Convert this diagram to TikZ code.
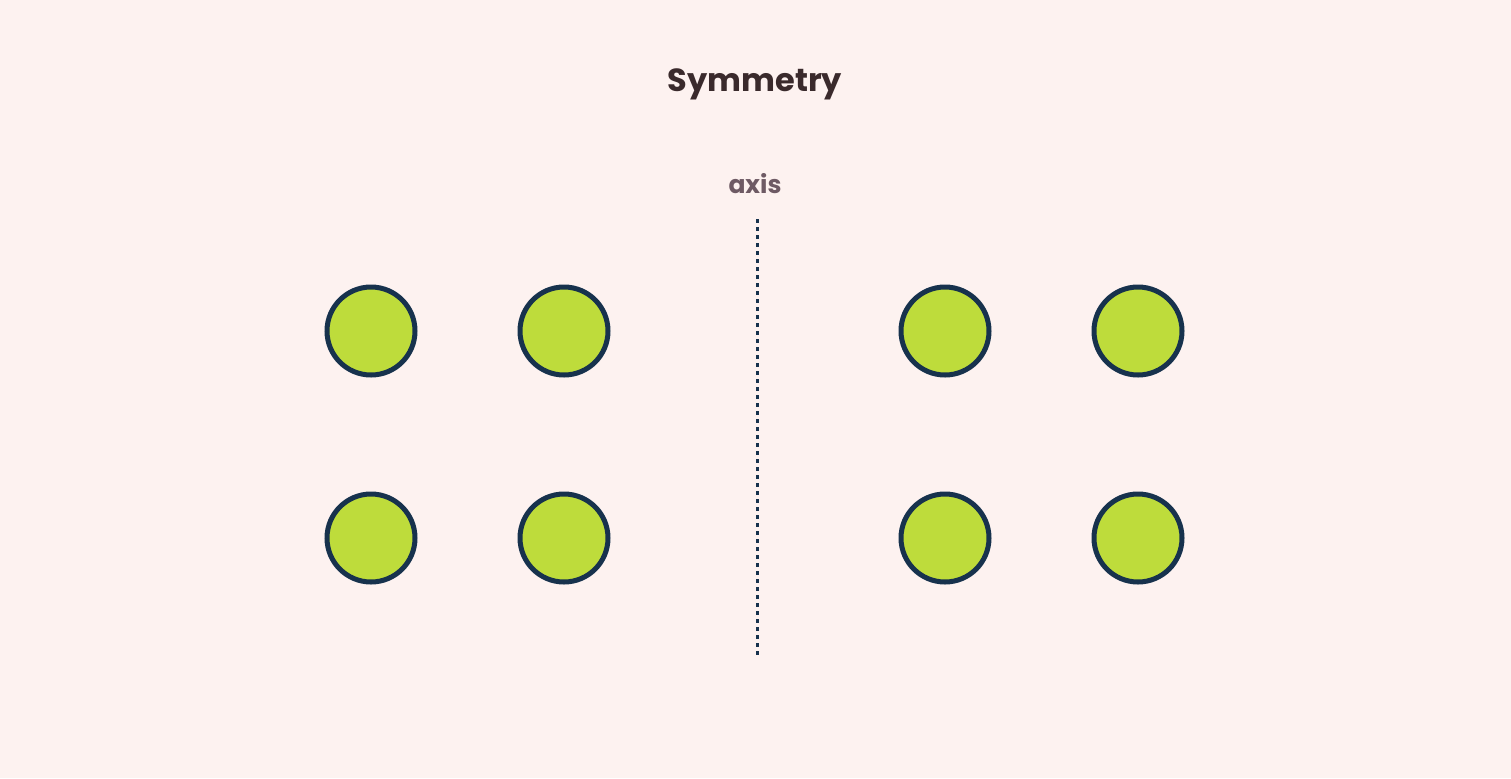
\documentclass[tikz,border=0pt]{standalone}
\usepackage{fontspec}
\setmainfont{Poppins}
\definecolor{bg}{HTML}{FDF2F0}
\definecolor{dotfill}{HTML}{BEDC3B}
\definecolor{dotline}{HTML}{17324D}
\definecolor{titlec}{HTML}{3A2A2C}
\definecolor{axisc}{HTML}{6E5A64}
\begin{document}
\begin{tikzpicture}[x=0.5pt,y=-0.5pt,
  dot/.style={circle,draw=dotline,fill=dotfill,line width=2.5pt,minimum size=44pt,inner sep=0pt}]
\fill[bg] (0,0) rectangle (1511,778);
\useasboundingbox (0,0) rectangle (1511,778);
\node[text=titlec,font=\fontsize{16}{18}\selectfont\bfseries] (title) at (755,84) {Symmetry};
\node[text=axisc,font=\fontsize{12.5}{14}\selectfont\bfseries] (axislbl) at (755,184) {axis};
\coordinate (at) at (757,219);
\coordinate (ab) at (757,658);
\draw[dotline,line width=1.5pt,dash pattern=on 2pt off 2pt] (at) -- (ab);
\foreach \x/\n in {371/a,564/b,945/c,1138/d}{
  \node[dot] (\n1) at (\x,331) {};
  \node[dot] (\n2) at (\x,538) {};
}
\end{tikzpicture}
\end{document}
